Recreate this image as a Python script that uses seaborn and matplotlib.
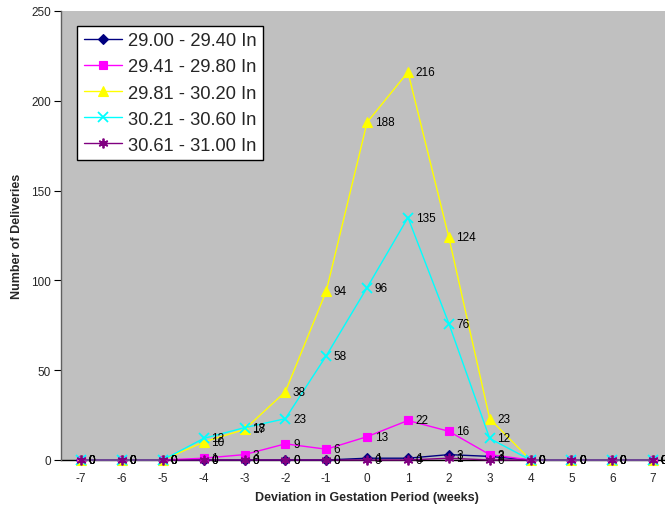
import matplotlib
matplotlib.use("Agg")
import matplotlib.pyplot as plt
import seaborn as sns
import pandas as pd

# Weeks of deviation from the expected gestation period
weeks = [-7, -6, -5, -4, -3, -2, -1, 0, 1, 2, 3, 4, 5, 6, 7]

# Deliveries per barometric pressure band
p_29_00 = [0, 0, 0, 0, 0, 0, 0, 1, 1, 3, 2, 0, 0, 0, 0]
p_29_41 = [0, 0, 0, 1, 3, 9, 6, 13, 22, 16, 3, 0, 0, 0, 0]
p_29_81 = [0, 0, 0, 10, 17, 38, 94, 188, 216, 124, 23, 0, 0, 0, 0]
p_30_21 = [0, 0, 0, 12, 18, 23, 58, 96, 135, 76, 12, 0, 0, 0, 0]
p_30_61 = [0, 0, 0, 0, 0, 0, 0, 0, 0, 1, 0, 0, 0, 0, 0]

band_labels = ["29.00 - 29.40 In", "29.41 - 29.80 In", "29.81 - 30.20 In",
               "30.21 - 30.60 In", "30.61 - 31.00 In"]
band_values = [p_29_00, p_29_41, p_29_81, p_30_21, p_30_61]
band_colors = ["#000080", "#FF00FF", "#FFFF00", "#00FFFF", "#800080"]
band_markers = ["D", "s", "^", "x", (6, 2, 0)]
band_msize = [5, 6, 7, 7, 7]

sns.set_style("white")
plt.rcParams["font.family"] = ["Liberation Sans", "DejaVu Sans"]
plt.rcParams["axes.unicode_minus"] = False

fig = plt.figure(figsize=(6.65, 5.1), dpi=100)
ax = fig.add_axes([60.6 / 665, 49 / 510, 613 / 665, 449 / 510])
ax.set_facecolor("#C0C0C0")

frames = []
for lab, vals in zip(band_labels, band_values):
    frames.append(pd.DataFrame({"week": weeks, "count": vals, "band": lab}))
df = pd.concat(frames, ignore_index=True)

for i, (lab, col, mk, ms) in enumerate(zip(band_labels, band_colors, band_markers, band_msize)):
    sub = df[df["band"] == lab]
    sns.lineplot(data=sub, x="week", y="count", ax=ax, color=col, marker=mk,
                 markersize=ms, markeredgecolor=col, markerfacecolor=col,
                 markeredgewidth=1.3 if mk in ("x", (6, 2, 0)) else 0.8,
                 linewidth=1.0, label=lab, zorder=3 + i, clip_on=False)

# Value labels to the right of each point
for i, vals in enumerate(band_values):
    for w, v in zip(weeks, vals):
        ax.annotate(str(v), (w, v), xytext=(5.5, 0), textcoords="offset points",
                    ha="left", va="center", fontsize=8.5, color="#000000",
                    zorder=10 + i, annotation_clip=False)

ax.set_xlim(-7.5, 7.5)
ax.set_ylim(0, 250)
ax.set_yticks([0, 50, 100, 150, 200, 250])
ax.set_xticks(weeks)
ax.set_xticks([w + 0.5 for w in weeks[:-1]] + [-7.5], minor=True)
ax.tick_params(axis="x", which="major", length=0, labelsize=8.5, pad=9)
ax.tick_params(axis="x", which="minor", length=4, width=0.8, color="#000000", direction="out")
ax.tick_params(axis="y", which="major", length=5, width=0.8, color="#000000",
               direction="out", labelsize=8.5, pad=2, left=True)

for s in ["top", "right"]:
    ax.spines[s].set_visible(False)
ax.spines["left"].set_color("#606060")
ax.spines["left"].set_linewidth(1.0)
ax.spines["bottom"].set_color("#000000")
ax.spines["bottom"].set_linewidth(1.0)
ax.spines["bottom"].set_zorder(2)

ax.set_xlabel("Deviation in Gestation Period (weeks)", fontsize=9, fontweight="bold", labelpad=5)
ax.set_ylabel("Number of Deliveries", fontsize=9, fontweight="bold", labelpad=6)

leg = ax.legend(loc="upper left", bbox_to_anchor=(0.027, 0.967), borderaxespad=0,
                fontsize=13.2, frameon=True, fancybox=False, shadow=False,
                handlelength=2.1, handletextpad=0.3, labelspacing=0.5,
                borderpad=0.35)
leg.get_frame().set_edgecolor("#000000")
leg.get_frame().set_linewidth(1.0)
leg.get_frame().set_facecolor("#FFFFFF")
leg.get_frame().set_alpha(1.0)

fig.savefig("out.png", dpi=100)
